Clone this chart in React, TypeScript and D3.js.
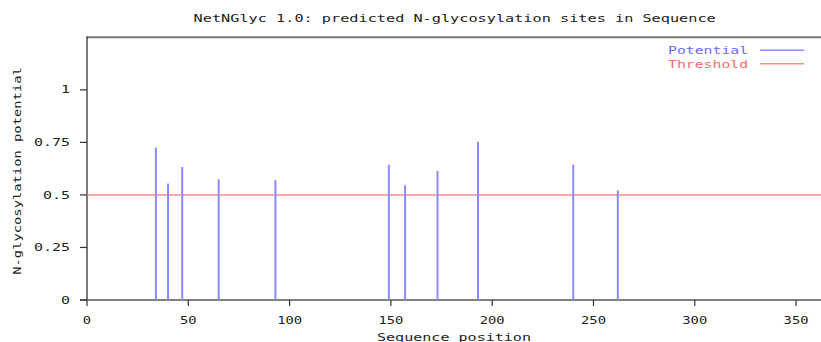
import React from "react";
import * as d3 from "d3";

const title = "NetNGlyc 1.0: predicted N-glycosylation sites in Sequence";
const positions = [34, 40, 47, 65, 93, 149, 157, 173, 193, 240, 262];
const potentials = [0.725, 0.554, 0.633, 0.574, 0.57, 0.644, 0.546, 0.615, 0.753, 0.644, 0.522];
const threshold = 0.5;
const xTicks = [0, 50, 100, 150, 200, 250, 300, 350];
const yTicks = [0, 0.25, 0.5, 0.75, 1];
const yTickLabels = ["0", "0.25", "0.5", "0.75", "1"];
const legendLabels = ["Potential", "Threshold"];

const W = 821;
const H = 342;
const left = 87;
const right = 820.4;
const top = 37.3;
const bottom = 300;

const FONT = "'DejaVu Sans Mono', monospace";
const BLUE = "#8a8aff";
const RED = "#ff8a8a";

export default function App() {
  const x = d3.scaleLinear().domain([0, 362]).range([left, right]);
  const y = d3.scaleLinear().domain([0, 1.25]).range([bottom, top]);

  const T = (props: any) => {
    const { text, cw, ...rest } = props;
    return (
      <text
        fontFamily={FONT}
        fontSize={10}
        textLength={text.length * cw}
        lengthAdjust="spacingAndGlyphs"
        {...rest}
      >
        {text}
      </text>
    );
  };

  return (
    <svg
      width={W}
      height={H}
      style={{ position: "absolute", left: 0, top: 0, background: "#fff" }}
    >
      <rect x={0} y={0} width={W} height={H} fill="#fff" />
      <T text={title} cw={9.16} x={(left + right) / 2 + 1} y={22.3} textAnchor="middle" fill="#222" />

      {/* frame */}
      <line x1={left} x2={W} y1={top} y2={top} stroke="#777" strokeWidth={2} />
      <line x1={left} x2={left} y1={top - 1} y2={bottom} stroke="#333" strokeWidth={1.3} />
      <line x1={left - 7} x2={W} y1={bottom} y2={bottom} stroke="#555" strokeWidth={1.5} />

      {/* y ticks */}
      {yTicks.map((t, i) => (
        <g key={"y" + i}>
          <line x1={left - 7} x2={left} y1={y(t)} y2={y(t)} stroke="#333" strokeWidth={1.2} />
          <T text={yTickLabels[i]} cw={9} x={70} y={y(t) + 3.6} textAnchor="end" fill="#222" />
        </g>
      ))}

      {/* x ticks */}
      {xTicks.map((t, i) => (
        <g key={"x" + i}>
          <line x1={x(t)} x2={x(t)} y1={bottom} y2={bottom + 6} stroke="#333" strokeWidth={1.2} />
          <T text={String(t)} cw={8.3} x={x(t)} y={323.8} textAnchor="middle" fill="#222" />
        </g>
      ))}

      {/* threshold */}
      <line x1={left} x2={W} y1={y(threshold)} y2={y(threshold)} stroke={RED} strokeWidth={1.5} />

      {/* potentials */}
      {positions.map((p, i) => (
        <line
          key={"p" + i}
          x1={x(p)}
          x2={x(p)}
          y1={y(0)}
          y2={y(potentials[i])}
          stroke={BLUE}
          strokeWidth={2}
        />
      ))}

      {/* axis labels */}
      <T text="Sequence position" cw={9.06} x={454} y={341.3} textAnchor="middle" fill="#222" />
      <T
        text="N-glycosylation potential"
        cw={8.3}
        x={0}
        y={0}
        textAnchor="middle"
        fill="#222"
        transform="translate(20.5,171) rotate(-90)"
      />

      {/* legend */}
      <T text={legendLabels[0]} cw={8.9} x={668} y={54.3} fill="#6a6aff" />
      <line x1={760} x2={804} y1={50.3} y2={50.3} stroke={BLUE} strokeWidth={1.5} />
      <T text={legendLabels[1]} cw={8.9} x={668} y={67.6} fill="#ff6a6a" />
      <line x1={760} x2={804} y1={63.7} y2={63.7} stroke={RED} strokeWidth={1.5} />
    </svg>
  );
}
